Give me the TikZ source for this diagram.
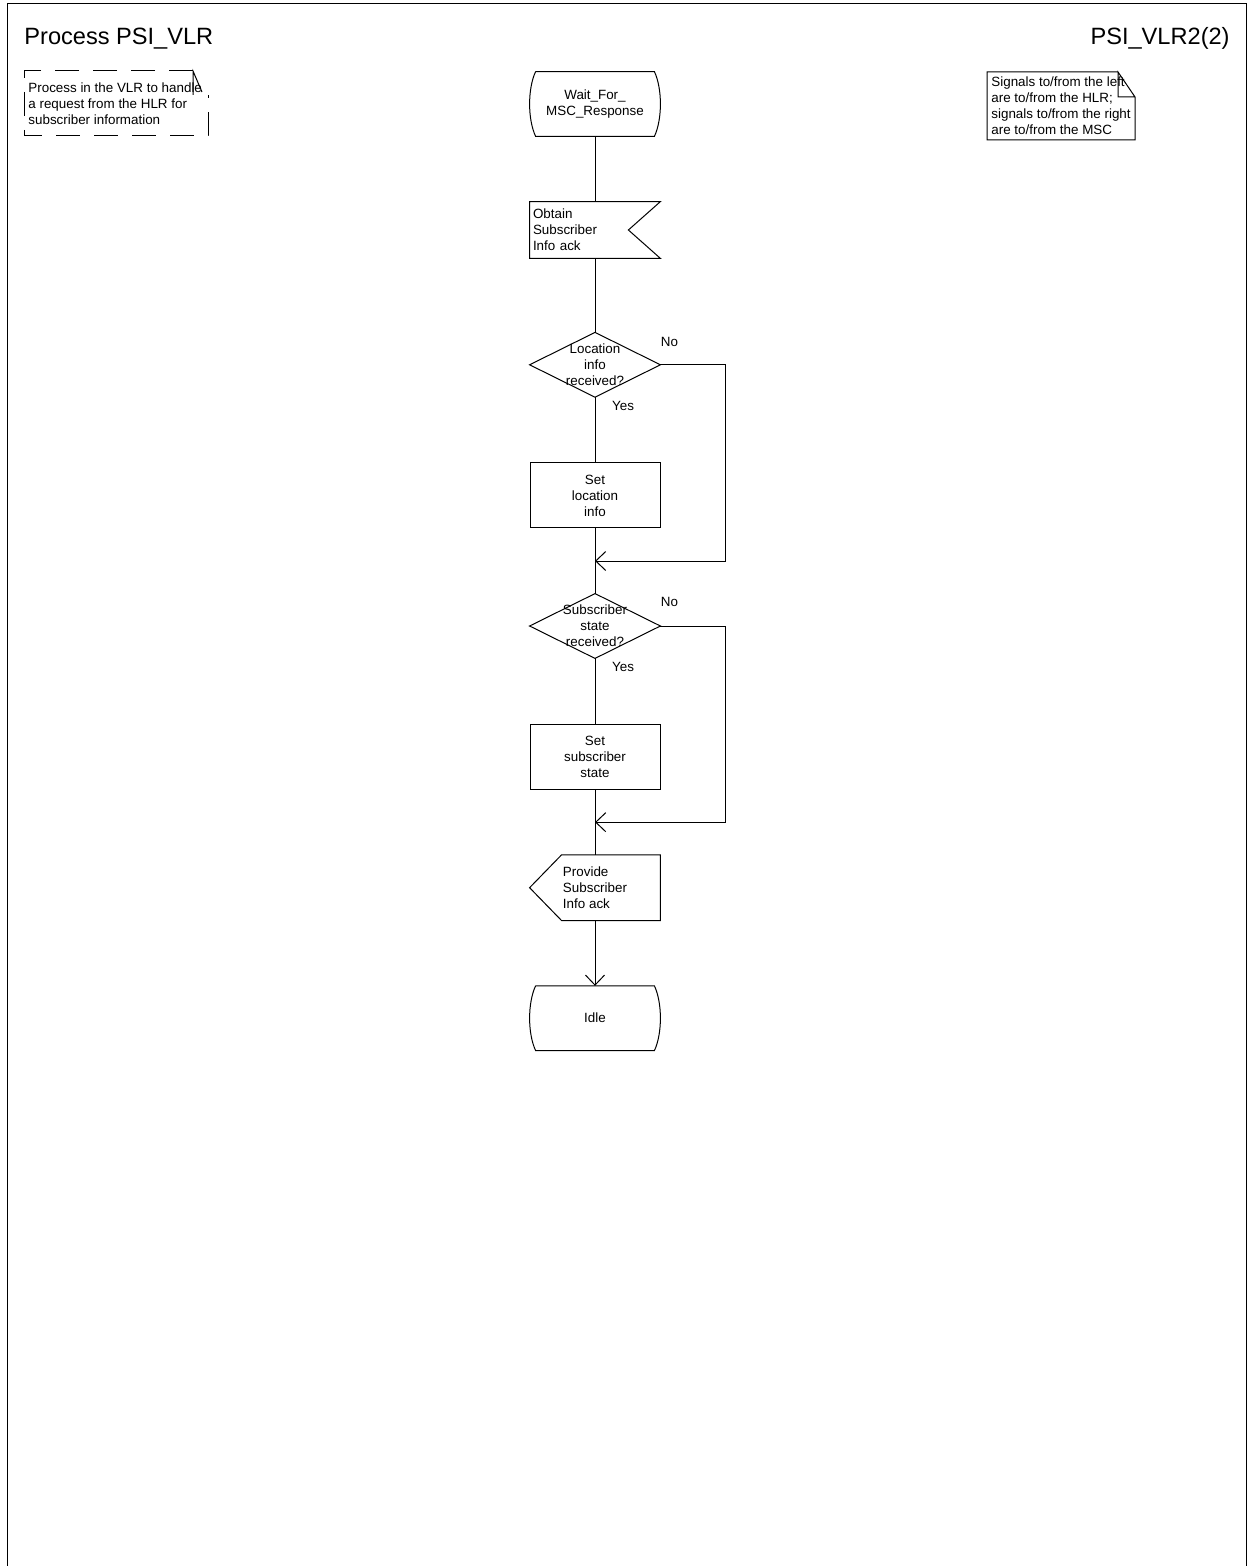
\documentclass[tikz,border=0pt]{standalone}
\usepackage{fontspec}
\setmainfont{Liberation Sans}
\usepackage{tikz}
\usetikzlibrary{arrows.meta, positioning, calc}
\newcommand{\sdlfont}{\fontsize{6.7}{8}\selectfont}
\newcommand{\sdltitlefont}{\fontsize{11.8}{14}\selectfont}

\begin{document}
\begin{tikzpicture}[
    x=0.5pt, y=-0.5pt,
    node distance=32.6pt,
    sdlline/.style={line width=0.5pt, draw=black},
    sdlarrow/.style={sdlline, -{Straight Barb[length=5pt, width=9.5pt]}},
    sdlbase/.style={rectangle, minimum width=65pt, minimum height=32pt, inner sep=0pt, font=\sdlfont, align=center},
    statebox/.style={sdlbase, append after command={\pgfextra{\draw[sdlline] ([xshift=3pt]\tikzlastnode.north west) -- ([xshift=-3pt]\tikzlastnode.north east) .. controls ([xshift=1pt, yshift=-8.6pt]\tikzlastnode.north east) and ([xshift=1pt, yshift=8.6pt]\tikzlastnode.south east) .. ([xshift=-3pt]\tikzlastnode.south east) -- ([xshift=3pt]\tikzlastnode.south west) .. controls ([xshift=-1pt, yshift=8.6pt]\tikzlastnode.south west) and ([xshift=-1pt, yshift=-8.6pt]\tikzlastnode.north west) .. ([xshift=3pt]\tikzlastnode.north west);}}},
    inputbox/.style={sdlbase, minimum height=28pt, text width=62pt, inner xsep=1.5pt, align=left, append after command={\pgfextra{\draw[sdlline] (\tikzlastnode.north west) -- (\tikzlastnode.north east) -- ([xshift=-16pt]\tikzlastnode.east) -- (\tikzlastnode.south east) -- (\tikzlastnode.south west) -- cycle;}}},
    outputbox/.style={sdlbase, minimum height=32.5pt, align=left, append after command={\pgfextra{\draw[sdlline] ([xshift=16pt]\tikzlastnode.north west) -- (\tikzlastnode.north east) -- (\tikzlastnode.south east) -- ([xshift=16pt]\tikzlastnode.south west) -- (\tikzlastnode.west) -- cycle;}}},
    decisionbox/.style={sdlbase, append after command={\pgfextra{\draw[sdlline] (\tikzlastnode.north) -- (\tikzlastnode.east) -- (\tikzlastnode.south) -- (\tikzlastnode.west) -- cycle;}}},
    taskbox/.style={sdlbase, sdlline, draw, minimum height=32.5pt},
    lbl/.style={font=\sdlfont, inner sep=0pt},
    notetext/.style={font=\sdlfont, inner sep=0pt, align=left, anchor=west}
]
\useasboundingbox (0,0) rectangle (1248,1566);
\draw[sdlline] (7,1566) -- (7,4) -- (1246,4) -- (1246,1566);

\node (title) [anchor=base west, inner sep=0pt, font=\sdltitlefont] at (24,45) {Process PSI\_VLR};
\node (page) [anchor=base east, inner sep=0pt, font=\sdltitlefont] at (1230,45) {PSI\_VLR2(2)};

% comments
\node (purpose) [notetext] at (28,104) {Process in the VLR to handle\\a request from the HLR for\\subscriber information};
\draw[sdlline, dash pattern=on 12pt off 7pt] (193,71) -- (24,71) -- (24,136) -- (208,136) -- (208,95);
\draw[sdlline] (193,95) -- (193,71) -- (202,92);

\node (sigs) [notetext] at (991,106) {Signals to/from the left\\are to/from the HLR;\\signals to/from the right\\are to/from the MSC};
\draw[sdlline] (1118,72) -- (987,72) -- (987,140) -- (1135,140) -- (1135,97) -- (1118,72) -- (1118,97) -- (1135,97);

% flow
\node (wait) [statebox] at (595,104) {Wait\_For\_\\MSC\_Response};
\node (obtain) [inputbox, below=of wait] {Obtain\\Subscriber\\Info ack};
\node (locq) [decisionbox, below=37pt of obtain] {Location\\info\\received?};
\node (setloc) [taskbox, below=of locq] {Set\\location\\info};
\node (stateq) [decisionbox, below=of setloc] {Subscriber\\state\\received?};
\node (setstate) [taskbox, below=of stateq] {Set\\subscriber\\state};
\node (provide) [outputbox, below=of setstate] {Provide\\Subscriber\\Info ack};
\node (idle) [statebox, below=of provide] {Idle};

\coordinate (join1) at ($(setloc.south)!0.5!(stateq.north)$);
\coordinate (join2) at ($(setstate.south)!0.5!(provide.north)$);

\node (locno) [lbl] at ($(locq.east)+(9,-23)$) {No};
\node (locyes) [lbl] at ($(locq.south)+(28,9)$) {Yes};
\node (stateno) [lbl] at ($(stateq.east)+(9,-24)$) {No};
\node (stateyes) [lbl] at ($(stateq.south)+(28,9)$) {Yes};

\draw[sdlline] (wait) -- (obtain);
\draw[sdlline] (obtain) -- (locq);
\draw[sdlline] (locq) -- (setloc);
\draw[sdlline] (setloc) -- (stateq);
\draw[sdlline] (stateq) -- (setstate);
\draw[sdlline] (setstate) -- (provide);
\draw[sdlarrow] (provide) -- (idle);
\draw[sdlarrow] (locq.east) -- ++(65,0) |- (join1);
\draw[sdlarrow] (stateq.east) -- ++(65,0) |- (join2);

\end{tikzpicture}
\end{document}
